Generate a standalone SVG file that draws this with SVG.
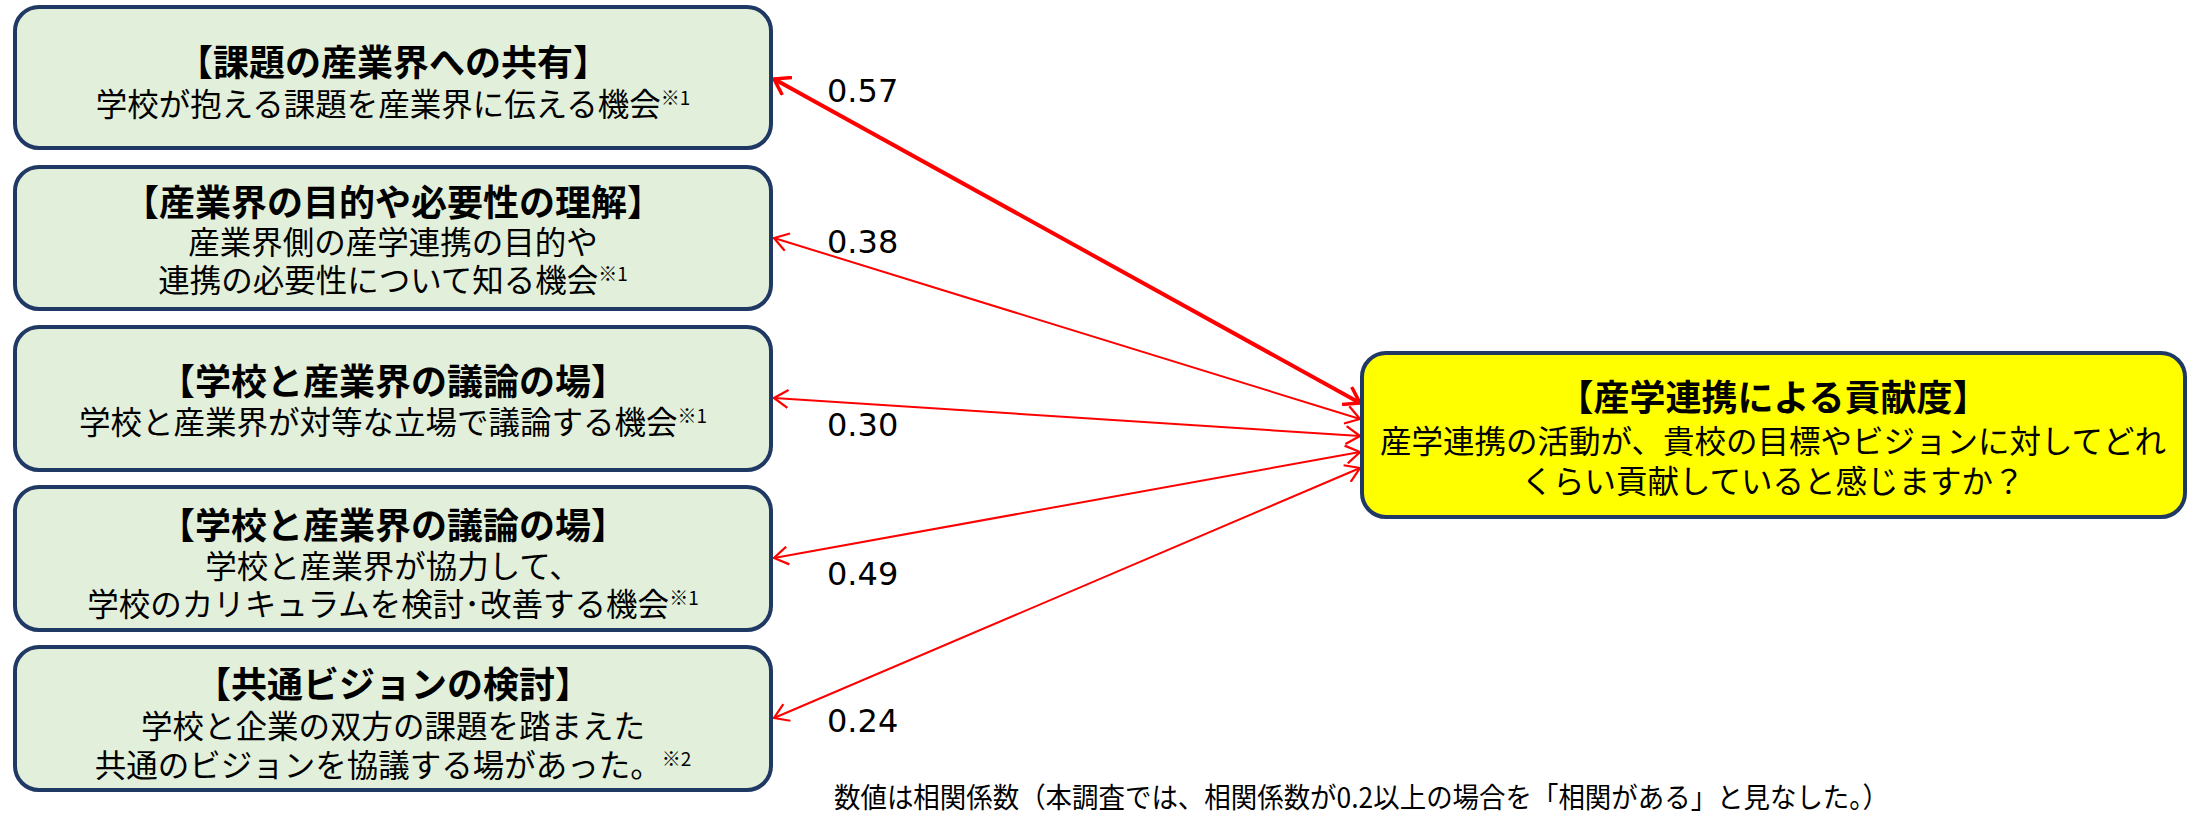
<svg xmlns="http://www.w3.org/2000/svg" width="2191" height="815" viewBox="0 0 2191 815">
<style>
.box{fill:#E2EFDA;stroke:#1F3864;stroke-width:4}
.target{fill:#FFFF00;stroke:#1F3864;stroke-width:4}
.lbl{font-family:"Noto Sans CJK JP","Noto Sans",sans-serif;fill:#000;text-anchor:middle}
.t{font-weight:700;font-size:36px}
.s{font-weight:400;font-size:31.5px}
.sup{font-size:19px}
.num{font-family:"DejaVu Sans",sans-serif;font-size:32px;fill:#000}
.foot{font-family:"Noto Sans CJK JP","Noto Sans",sans-serif;font-size:28px;fill:#000}
.c{fill:none;stroke:#FF0000;stroke-width:2}
.c.thick{stroke-width:4}
</style>
<defs>
<marker id="ah" viewBox="0 0 16 20" markerWidth="16" markerHeight="20" refX="15" refY="10" orient="auto-start-reverse" markerUnits="userSpaceOnUse">
<path d="M1,1 L15,10 L1,19" fill="none" stroke="#FF0000" stroke-width="2.2"/>
</marker>
<marker id="ahT" viewBox="0 0 18 22" markerWidth="18" markerHeight="22" refX="16" refY="11" orient="auto-start-reverse" markerUnits="userSpaceOnUse">
<path d="M1,1 L16,11 L1,21" fill="none" stroke="#FF0000" stroke-width="3.5"/>
</marker>
</defs>

<g id="connectors">
<path class="c thick" d="M774,79 L1360,403" marker-start="url(#ahT)" marker-end="url(#ahT)"/>
<path class="c" d="M774,238 L1360,419" marker-start="url(#ah)" marker-end="url(#ah)"/>
<path class="c" d="M774,398 L1360,436" marker-start="url(#ah)" marker-end="url(#ah)"/>
<path class="c" d="M774,558 L1360,452" marker-start="url(#ah)" marker-end="url(#ah)"/>
<path class="c" d="M774,718 L1360,468" marker-start="url(#ah)" marker-end="url(#ah)"/>
</g>

<g id="labels">
<text class="num" x="827" y="102">0.57</text>
<text class="num" x="827" y="253">0.38</text>
<text class="num" x="827" y="436">0.30</text>
<text class="num" x="827" y="585">0.49</text>
<text class="num" x="827" y="732">0.24</text>
</g>

<g id="node1">
<rect class="box" x="15" y="7" width="756" height="141" rx="24"/>
<text class="lbl"><tspan class="t" x="393" y="76">【課題の産業界への共有】</tspan><tspan class="s" x="393" y="116">学校が抱える課題を産業界に伝える機会<tspan class="sup" dy="-11">※1</tspan></tspan></text>
</g>

<g id="node2">
<rect class="box" x="15" y="167" width="756" height="142" rx="24"/>
<text class="lbl"><tspan class="t" x="393" y="216">【産業界の目的や必要性の理解】</tspan><tspan class="s" x="393" y="254">産業界側の産学連携の目的や</tspan><tspan class="s" x="393" y="292">連携の必要性について知る機会<tspan class="sup" dy="-11">※1</tspan></tspan></text>
</g>

<g id="node3">
<rect class="box" x="15" y="327" width="756" height="143" rx="24"/>
<text class="lbl"><tspan class="t" x="393" y="395">【学校と産業界の議論の場】</tspan><tspan class="s" x="393" y="434">学校と産業界が対等な立場で議論する機会<tspan class="sup" dy="-11">※1</tspan></tspan></text>
</g>

<g id="node4">
<rect class="box" x="15" y="487" width="756" height="143" rx="24"/>
<text class="lbl"><tspan class="t" x="393" y="539">【学校と産業界の議論の場】</tspan><tspan class="s" x="393" y="578">学校と産業界が協力して、</tspan><tspan class="s" x="393" y="616">学校のカリキュラムを検討･改善する機会<tspan class="sup" dy="-11">※1</tspan></tspan></text>
</g>

<g id="node5">
<rect class="box" x="15" y="647" width="756" height="143" rx="24"/>
<text class="lbl"><tspan class="t" x="393" y="698">【共通ビジョンの検討】</tspan><tspan class="s" x="393" y="738">学校と企業の双方の課題を踏まえた</tspan><tspan class="s" x="393" y="777">共通のビジョンを協議する場があった。<tspan class="sup" dy="-11">※2</tspan></tspan></text>
</g>

<g id="target">
<rect class="target" x="1362" y="353" width="823" height="164" rx="24"/>
<text class="lbl"><tspan class="t" x="1773" y="411">【産学連携による貢献度】</tspan><tspan class="s" x="1773" y="453">産学連携の活動が、貴校の目標やビジョンに対してどれ</tspan><tspan class="s" x="1773" y="493">くらい貢献していると感じますか？</tspan></text>
</g>

<text class="foot" x="834" y="808" textLength="1055" lengthAdjust="spacingAndGlyphs">数値は相関係数（本調査では、相関係数が0.2以上の場合を「相関がある」と見なした。）</text>
</svg>
